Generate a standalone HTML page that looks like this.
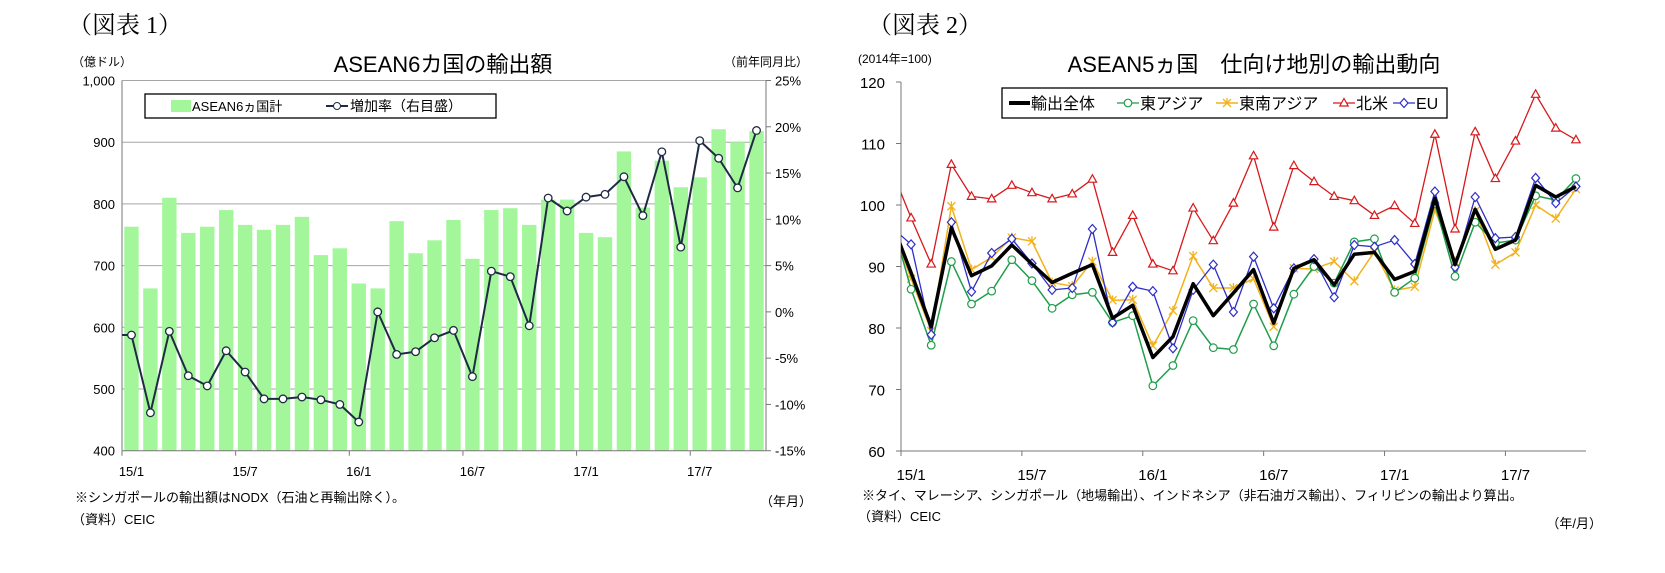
<!DOCTYPE html>
<html><head><meta charset="utf-8">
<style>
body{margin:0;background:#fff;}
svg text{font-family:"Liberation Sans","Noto Sans CJK JP",sans-serif;}
.serif{font-family:"Liberation Serif","Noto Serif CJK SC",serif !important;}
</style></head>
<body>
<svg id="c" width="1665" height="568" viewBox="0 0 1665 568" xmlns="http://www.w3.org/2000/svg">
<defs><clipPath id="clipR"><rect x="901" y="60" width="700" height="400"/></clipPath></defs>
<text x="68" y="33" font-size="24" class="serif">（図表 1）</text>
<text x="72" y="66" font-size="12">（億ドル）</text>
<text x="443" y="72" font-size="22" text-anchor="middle">ASEAN6カ国の輸出額</text>
<text x="808" y="66" font-size="12" text-anchor="end">（前年同月比）</text>
<text x="75" y="502" font-size="13">※シンガポールの輸出額はNODX（石油と再輸出除く）。</text>
<text x="72" y="524" font-size="13">（資料）CEIC</text>
<text x="812" y="506" font-size="13" text-anchor="end">（年月）</text>

<text x="868" y="33" font-size="24" class="serif">（図表 2）</text>
<text x="858" y="63" font-size="12">(2014年=100)</text>
<text x="1254" y="72" font-size="22" text-anchor="middle">ASEAN5ヵ国　仕向け地別の輸出動向</text>
<text x="862" y="500" font-size="13">※タイ、マレーシア、シンガポール（地場輸出）、インドネシア（非石油ガス輸出）、フィリピンの輸出より算出。</text>
<text x="858" y="521" font-size="13">（資料）CEIC</text>
<text x="1602" y="528" font-size="13" text-anchor="end">（年/月）</text>
<g id="L"></g><g id="R"></g>
</svg>
<script>
const NS="http://www.w3.org/2000/svg";
function mk(parent,tag,attrs,txt){const e=document.createElementNS(NS,tag);for(const k in attrs)e.setAttribute(k,attrs[k]);if(txt!==undefined)e.textContent=txt;parent.appendChild(e);return e;}

// ---- Left chart data ----
const monthLabels=["15/1","15/7","16/1","16/7","17/1","17/7"];
const exportValues=[763,663,810,753,763,790,766,758,766,779,717,728,671,663,772,720,741,774,711,790,793,766,807,807,753,746,885,794,870,827,843,921,900,918];
const growthRates=[-2.5,-10.9,-2.1,-6.9,-8.0,-4.2,-6.5,-9.4,-9.4,-9.2,-9.5,-10.0,-11.9,0.0,-4.6,-4.3,-2.8,-2.0,-7.0,4.4,3.8,-1.5,12.3,10.9,12.4,12.7,14.6,10.4,17.3,7.0,18.5,16.6,13.4,19.6];
const leftTicks=[400,500,600,700,800,900,1000];
const leftTickLabels=["400","500","600","700","800","900","1,000"];
const rightTicks=[-15,-10,-5,0,5,10,15,20,25];
const rightTickLabels=["-15%","-10%","-5%","0%","5%","10%","15%","20%","25%"];

// ---- Right chart data ----
const idxTicks=[60,70,80,90,100,110,120];
const seriesTotal=[89,80.2,96.3,88.5,90.1,93.5,90.4,87.4,88.9,90.3,81.6,83.7,75.2,78.6,87.2,82.0,85.7,89.5,80.8,89.7,91.1,87.0,92.0,92.3,87.9,89.2,101.1,90.3,99.3,92.8,94.3,103.2,101.3,103.0];
const seriesEastAsia=[86.3,77.2,90.8,83.9,86.0,91.1,87.7,83.2,85.4,85.8,80.9,82.0,70.6,73.9,81.2,76.8,76.5,83.9,77.1,85.5,90.0,87.3,94.0,94.5,85.8,88.1,100.2,88.4,97.2,93.8,94.3,101.5,100.8,104.3];
const seriesSEAsia=[88,79.5,99.8,89.5,91.5,94.7,94.1,87.4,86.8,90.8,84.5,84.6,77.1,82.8,91.7,86.5,86.5,88.0,80.2,89.7,89.6,90.8,87.6,92.4,86.1,86.7,99.2,90.8,99.0,90.3,92.3,100.0,97.8,102.6];
const seriesNA=[97.9,90.4,106.6,101.4,101.0,103.2,102.0,101.0,101.8,104.2,92.3,98.3,90.4,89.3,99.5,94.2,100.3,108.0,96.4,106.4,103.8,101.4,100.7,98.3,99.9,97.0,111.5,96.1,111.9,104.3,110.4,118.0,112.5,110.6];
const seriesEU=[93.6,78.9,97.2,85.9,92.2,94.5,90.5,86.2,86.5,96.1,80.9,86.7,86.0,76.7,86.2,90.3,82.6,91.6,83.2,89.7,91.2,85.0,93.5,93.2,94.3,90.4,102.2,89.9,101.3,94.6,94.8,104.4,100.3,103.0];
// value for 2014/12 (partly visible line start)
const priorValues={total:97.5,east:98,se:97,na:106,eu:96.5};

// ---- Left chart drawing ----
const L=document.getElementById('L');
const lx0=122,lx1=766,ly0=450.7,ly1=80.5;
const n=exportValues.length, lw=(lx1-lx0)/n;
const yL=v=>ly0-(v-400)/600*(ly0-ly1);
const yR=v=>ly0-(v+15)/40*(ly0-ly1);
const xL=i=>lx0+(i+0.5)*lw;
leftTicks.forEach((t,i)=>{
  if(i>0){const g=mk(L,'line',{x1:lx0,x2:lx1,y1:yL(t),y2:yL(t),stroke:'#a6a6a6','stroke-width':1});
  
  }
  const tl=mk(L,'text',{x:lx0-7,y:yL(t)+5,'font-size':13,'text-anchor':'end'},leftTickLabels[i]);
  
  
});
rightTicks.forEach((t,i)=>{
  const tl=mk(L,'text',{x:lx1+9,y:yR(t)+5,'font-size':13},rightTickLabels[i]);
  
  
  mk(L,'line',{x1:lx1,x2:lx1+5,y1:yR(t),y2:yR(t),stroke:'#777'});
});
exportValues.forEach((v,i)=>{
  const b=mk(L,'rect',{x:xL(i)-lw*0.38,y:yL(v),width:lw*0.76,height:ly0-yL(v),fill:'#a3f79a'});
  
  
});
mk(L,'line',{x1:lx0,x2:lx0,y1:ly1,y2:ly0,stroke:'#777'});
mk(L,'line',{x1:lx1,x2:lx1,y1:ly1,y2:ly0,stroke:'#777'});
mk(L,'line',{x1:lx0,x2:lx1,y1:ly0,y2:ly0,stroke:'#777'});
for(let k=0;k<=n;k+=6) mk(L,'line',{x1:lx0+k*lw,x2:lx0+k*lw,y1:ly0,y2:ly0+5,stroke:'#777'});
monthLabels.forEach((m,k)=>{
  const tl=mk(L,'text',{x:xL(k*6),y:476,'font-size':13,'text-anchor':'middle'},m);
  
  
});
let d='M'+lx0+' '+yR(growthRates[0]);
growthRates.forEach((v,i)=>{d+=' L'+xL(i)+' '+yR(v);});
const gl=mk(L,'path',{d:d,fill:'none',stroke:'#1f2a44','stroke-width':2});


growthRates.forEach((v,i)=>{
  const c=mk(L,'circle',{cx:xL(i),cy:yR(v),r:3.8,fill:'#fff',stroke:'#1f2a44','stroke-width':1.3});
  
  
});
// left legend
const lg=mk(L,'g',{});


mk(lg,'rect',{x:145,y:94,width:351,height:24,fill:'#fff',stroke:'#000','stroke-width':1.3});
mk(lg,'rect',{x:171,y:100,width:20,height:12,fill:'#a3f79a'});
mk(lg,'text',{x:192,y:111,'font-size':13},'ASEAN6ヵ国計');
mk(lg,'line',{x1:326,x2:348,y1:106,y2:106,stroke:'#1f2a44','stroke-width':2});
mk(lg,'circle',{cx:337,cy:106,r:3.5,fill:'#fff',stroke:'#1f2a44'});
mk(lg,'text',{x:350,y:111,'font-size':14},'増加率（右目盛）');

// ---- Right chart drawing ----
const R=document.getElementById('R');
const rx0=901,rx1=1586,ry0=451,ry1=82;
const rw=(rx1-rx0)/seriesTotal.length;
const yI=v=>ry0-(v-60)/60*(ry0-ry1);
const xI=i=>rx0+(i+0.5)*rw;
idxTicks.forEach(t=>{
  const tl=mk(R,'text',{x:885,y:yI(t)+6,'font-size':15,'text-anchor':'end'},String(t));
  
  
  mk(R,'line',{x1:rx0-5,x2:rx0,y1:yI(t),y2:yI(t),stroke:'#777'});
});
mk(R,'line',{x1:rx0,x2:rx0,y1:ry1,y2:ry0,stroke:'#777'});
mk(R,'line',{x1:rx0,x2:rx1,y1:ry0,y2:ry0,stroke:'#777'});
for(let k=0;k<=seriesTotal.length;k+=6) mk(R,'line',{x1:rx0+k*rw,x2:rx0+k*rw,y1:ry0,y2:ry0+5,stroke:'#777'});
monthLabels.forEach((m,k)=>{
  const tl=mk(R,'text',{x:xI(k*6),y:480,'font-size':15,'text-anchor':'middle'},m);
  
  
});
function marker(g,type,x,y,col){
  if(type==='circle') return mk(g,'circle',{cx:x,cy:y,r:3.8,fill:'#fff',stroke:col,'stroke-width':1.2});
  if(type==='tri') return mk(g,'path',{d:`M${x} ${y-4.5} L${x+4.2} ${y+3} L${x-4.2} ${y+3}Z`,fill:'#fff',stroke:col,'stroke-width':1.2});
  if(type==='dia') return mk(g,'path',{d:`M${x} ${y-4.5} L${x+4} ${y} L${x} ${y+4.5} L${x-4} ${y}Z`,fill:'#fff',stroke:col,'stroke-width':1.2});
  if(type==='x'){mk(g,'path',{d:`M${x-4} ${y-4} L${x+4} ${y+4} M${x-4} ${y+4} L${x+4} ${y-4} M${x} ${y-5} L${x} ${y}`,stroke:col,'stroke-width':1.3,fill:'none'});return null;}
  return null;
}
function drawSeries(vals,prior,col,width,type,name){
  const g=mk(R,'g',{'clip-path':'url(#clipR)'});
  
  
  let d='M'+xI(-1)+' '+yI(prior);
  vals.forEach((v,i)=>{d+=' L'+xI(i)+' '+yI(v);});
  mk(g,'path',{d:d,fill:'none',stroke:col,'stroke-width':width,'stroke-linejoin':'round'});
  vals.forEach((v,i)=>{
    const m=marker(g,type,xI(i),yI(v),col);
    if(m){
    }
  });
}
drawSeries(seriesNA,priorValues.na,'#d7191c',1.3,'tri','north-america-line');
drawSeries(seriesSEAsia,priorValues.se,'#f2b21a',1.5,'x','southeast-asia-line');
drawSeries(seriesEastAsia,priorValues.east,'#1e9e4a',1.5,'circle','east-asia-line');
drawSeries(seriesEU,priorValues.eu,'#2e2ec8',1.3,'dia','eu-line');
drawSeries(seriesTotal,priorValues.total,'#000',3.5,'none','total-exports-line');
// right legend
const rg=mk(R,'g',{});


mk(rg,'rect',{x:1002,y:88,width:445,height:30,fill:'#fff',stroke:'#000','stroke-width':1.3});
mk(rg,'line',{x1:1009,x2:1030,y1:103,y2:103,stroke:'#000','stroke-width':4});
mk(rg,'text',{x:1031,y:109,'font-size':16},'輸出全体');
mk(rg,'line',{x1:1117,x2:1139,y1:103,y2:103,stroke:'#1e9e4a','stroke-width':1.3});
marker(rg,'circle',1128,103,'#1e9e4a');
mk(rg,'text',{x:1140,y:109,'font-size':16},'東アジア');
mk(rg,'line',{x1:1216,x2:1238,y1:103,y2:103,stroke:'#f2b21a','stroke-width':1.5});
marker(rg,'x',1227,103,'#f2b21a');
mk(rg,'text',{x:1239,y:109,'font-size':16},'東南アジア');
mk(rg,'line',{x1:1333,x2:1355,y1:103,y2:103,stroke:'#d7191c','stroke-width':1.3});
marker(rg,'tri',1344,103,'#d7191c');
mk(rg,'text',{x:1356,y:109,'font-size':16},'北米');
mk(rg,'line',{x1:1393,x2:1415,y1:103,y2:103,stroke:'#2e2ec8','stroke-width':1.3});
marker(rg,'dia',1404,103,'#2e2ec8');
mk(rg,'text',{x:1416,y:109,'font-size':16},'EU');
</script>
</body></html>
